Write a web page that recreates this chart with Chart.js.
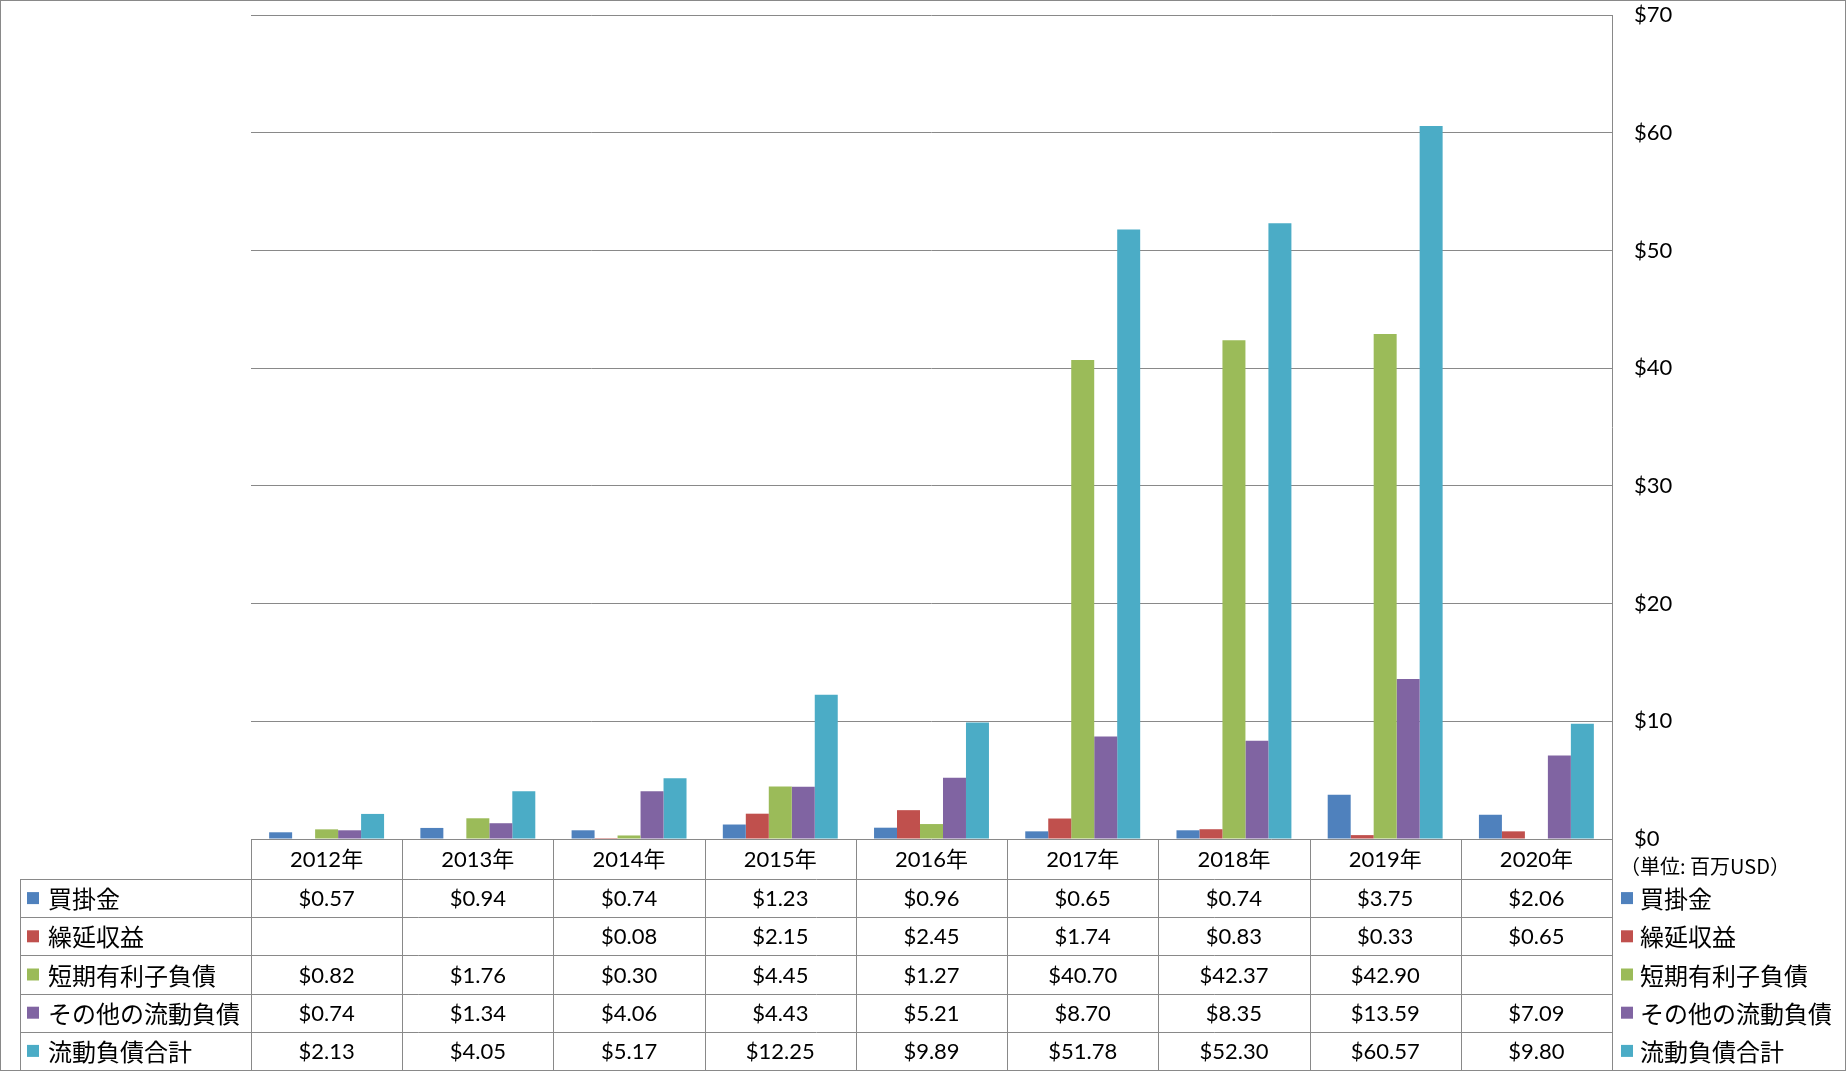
<!DOCTYPE html>
<html>
<head>
<meta charset="utf-8">
<script src="https://cdn.jsdelivr.net/npm/chart.js@4.4.1/dist/chart.umd.min.js"></script>
<style>
  html, body { margin: 0; padding: 0; background: #fff; }
</style>
</head>
<body>
<canvas id="liabilities" width="1846" height="1071"></canvas>
<script>
// years on the x axis
const years = ['2012年', '2013年', '2014年', '2015年', '2016年', '2017年', '2018年', '2019年', '2020年'];

// values in million USD, null = empty cell
const accountsPayable = [0.57, 0.94, 0.74, 1.23, 0.96, 0.65, 0.74, 3.75, 2.06];
const deferredRevenue = [null, null, 0.08, 2.15, 2.45, 1.74, 0.83, 0.33, 0.65];
const shortTermDebt = [0.82, 1.76, 0.30, 4.45, 1.27, 40.70, 42.37, 42.90, null];
const otherCurrent = [0.74, 1.34, 4.06, 4.43, 5.21, 8.70, 8.35, 13.59, 7.09];
const totalCurrent = [2.13, 4.05, 5.17, 12.25, 9.89, 51.78, 52.30, 60.57, 9.80];

const seriesNames = ['買掛金', '繰延収益', '短期有利子負債', 'その他の流動負債', '流動負債合計'];
const seriesColors = ['#4F81BD', '#C0504D', '#9BBB59', '#8064A2', '#4BACC6'];
const seriesValues = [accountsPayable, deferredRevenue, shortTermDebt, otherCurrent, totalCurrent];

const yTicks = [0, 10, 20, 30, 40, 50, 60, 70];
const unitNote = '（単位: 百万USD）';

const lineColor = '#898989';
const numFont = "22px Lato, 'Noto Sans CJK JP'";
const labelFont = "24px 'Noto Sans CJK JP'";

function money(v) {
  return v == null ? '' : '$' + v.toFixed(2);
}

// data table under the plot + legend on the right
const dataTable = {
  id: 'dataTable',
  afterDraw(chart) {
    const ctx = chart.ctx;
    const area = chart.chartArea;
    const xScale = chart.scales.x;
    const n = years.length;
    const colW = area.width / n;
    const headTop = area.bottom;
    const headBottom = headTop + 40;
    const tableBottom = 1070;
    const rows = chart.data.datasets.length;
    const rowH = (tableBottom - headBottom) / rows;
    const tableLeft = 20;

    ctx.save();
    ctx.strokeStyle = lineColor;
    ctx.lineWidth = 1;

    // outer frame
    ctx.strokeRect(0.5, 0.5, chart.width - 1, tableBottom);

    ctx.beginPath();
    // vertical lines of category columns
    for (let i = 0; i <= n; i++) {
      const x = Math.round(area.left + i * colW) + 0.5;
      ctx.moveTo(x, headTop);
      ctx.lineTo(x, tableBottom);
    }
    ctx.moveTo(tableLeft + 0.5, headBottom);
    ctx.lineTo(tableLeft + 0.5, tableBottom);
    // horizontal lines
    for (let r = 0; r <= rows; r++) {
      const y = Math.round(headBottom + r * rowH) + 0.5;
      ctx.moveTo(tableLeft, y);
      ctx.lineTo(area.right + 1, y);
    }
    ctx.stroke();

    ctx.fillStyle = '#000';
    ctx.textBaseline = 'middle';
    ctx.textAlign = 'center';
    ctx.font = numFont;
    years.forEach((yr, i) => {
      ctx.fillText(yr, xScale.getPixelForValue(i), (headTop + headBottom) / 2 + 1);
    });

    chart.data.datasets.forEach((ds, r) => {
      const cy = headBottom + (r + 0.5) * rowH + 1;
      ctx.textAlign = 'center';
      ctx.font = numFont;
      ctx.fillStyle = '#000';
      ds.data.forEach((v, i) => {
        ctx.fillText(money(v), xScale.getPixelForValue(i), cy);
      });

      // left row header
      ctx.fillStyle = ds.backgroundColor;
      ctx.fillRect(27, cy - 7, 12, 12);
      ctx.fillStyle = '#000';
      ctx.textAlign = 'left';
      ctx.font = labelFont;
      ctx.fillText(ds.label, 48, cy);

      // right legend
      ctx.fillStyle = ds.backgroundColor;
      ctx.fillRect(area.right + 9, cy - 7, 12, 12);
      ctx.fillStyle = '#000';
      ctx.fillText(ds.label, area.right + 28, cy);
    });

    ctx.font = "20px 'Noto Sans CJK JP'";
    ctx.textAlign = 'left';
    ctx.fillText(unitNote, area.right + 8, headTop + 27);
    ctx.restore();
  }
};

new Chart(document.getElementById('liabilities'), {
  type: 'bar',
  data: {
    labels: years,
    datasets: seriesNames.map((name, i) => ({
      label: name,
      data: seriesValues[i],
      backgroundColor: seriesColors[i],
      borderWidth: 0,
      categoryPercentage: 0.76,
      barPercentage: 1.0
    }))
  },
  options: {
    responsive: false,
    animation: false,
    devicePixelRatio: 1,
    layout: {
      padding: { left: 251, right: 0, top: 15, bottom: 232 }
    },
    plugins: {
      legend: { display: false },
      tooltip: { enabled: false }
    },
    scales: {
      x: { display: false },
      y: {
        position: 'right',
        min: 0,
        max: 70,
        afterBuildTicks(scale) {
          scale.ticks = yTicks.map(v => ({ value: v }));
        },
        afterFit(scale) {
          scale.width = 234;
          scale.paddingTop = 0;
          scale.paddingBottom = 0;
        },
        ticks: {
          callback: v => '$' + v,
          color: '#000',
          font: { family: "Lato, 'Noto Sans CJK JP'", size: 22 },
          padding: 22
        },
        grid: {
          color: lineColor,
          lineWidth: 1,
          drawTicks: false
        },
        border: { display: true, color: lineColor, width: 1 }
      }
    }
  },
  plugins: [dataTable]
});
</script>
</body>
</html>
